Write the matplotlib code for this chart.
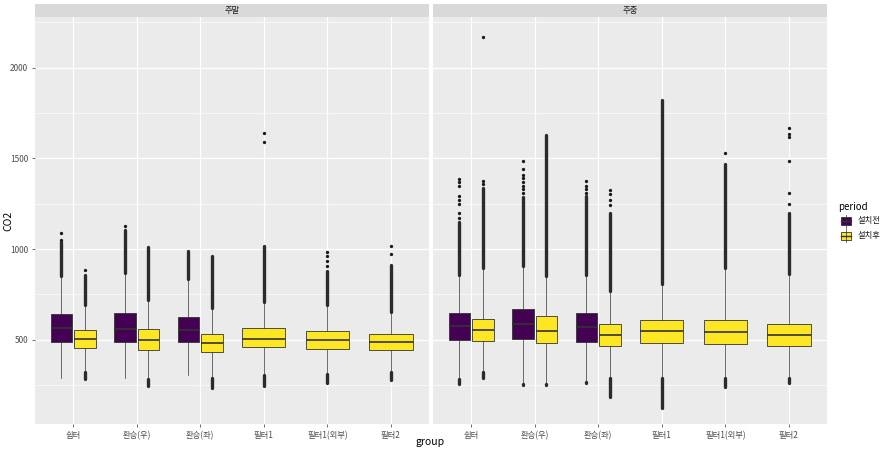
import matplotlib.pyplot as plt
from matplotlib.patches import Rectangle

plt.rcParams['font.family'] = ['Noto Sans CJK KR', 'DejaVu Sans']

# categories
groups = ['쉼터', '환승(우)', '환승(좌)', '필터1', '필터1(외부)', '필터2']
facets = ['주말', '주중']
periods = ['설치전', '설치후']
period_colors = {'설치전': '#440154', '설치후': '#FDE725'}

# one entry per box
box_facet = ['주말'] * 9 + ['주중'] * 9
box_group = ['쉼터', '쉼터', '환승(우)', '환승(우)', '환승(좌)', '환승(좌)',
             '필터1', '필터1(외부)', '필터2'] * 2
box_period = ['설치전', '설치후', '설치전', '설치후', '설치전', '설치후',
              '설치후', '설치후', '설치후'] * 2

q1 = [489, 456, 487, 443, 487, 432, 458, 449, 443,
      496, 494, 504, 483, 489, 465, 482, 474, 465]
med = [564, 504, 559, 496, 555, 483, 506, 498, 487,
       577, 551, 588, 548, 570, 526, 548, 542, 528]
q3 = [640, 551, 645, 559, 627, 533, 562, 548, 531,
      645, 616, 667, 632, 645, 588, 610, 607, 586]
whislo = [289, 320, 289, 282, 305, 287, 305, 311, 320,
          282, 324, 256, 258, 268, 287, 291, 291, 291]
whishi = [849, 689, 867, 720, 834, 675, 709, 689, 653,
          858, 894, 908, 853, 858, 766, 809, 894, 861]
# lowest outlier (None = no low outliers) and top of dense upper outlier run
low_out_min = [None, 283, None, 243, None, 234, 243, 261, 276,
               256, 287, 250, 252, 262, 184, 124, 239, 261]
up_out_max = [1040, 858, 1103, 1011, 991, 959, 1015, 877, 913,
              1147, 1338, 1285, 1628, 1290, 1200, 1823, 1470, 1198]
# isolated outliers above the dense run
sparse_out = [
    [1051, 1088], [886], [1128], [], [], [], [1590, 1639],
    [904, 932, 959, 981], [972, 1018],
    [1171, 1198, 1250, 1272, 1290, 1350, 1369, 1387], [1358, 1373, 2172],
    [1310, 1330, 1350, 1370, 1390, 1410, 1441, 1483], [],
    [1310, 1330, 1350, 1373], [1244, 1268, 1305, 1323], [], [1529],
    [1250, 1309, 1483, 1620, 1635, 1670],
]

W, H = 887, 451
fig = plt.figure(figsize=(W / 100, H / 100), dpi=100)
fig.patch.set_facecolor('white')

edge = '#333333'
panel_left = [35, 433]
panel_w = 394
panel_top, panel_bot = 17.3, 424
strip_top = 4

for fi, facet in enumerate(facets):
    x0 = panel_left[fi]
    ax = fig.add_axes([x0 / W, (H - panel_bot) / H, panel_w / W,
                       (panel_bot - panel_top) / H])
    ax.set_facecolor('#EBEBEB')
    for s in ax.spines.values():
        s.set_visible(False)
    ax.set_xlim(0.4, 6.6)
    ax.set_ylim(35, 2278)
    ax.set_yticks([500, 1000, 1500, 2000])
    ax.set_yticks([250, 750, 1250, 1750, 2250], minor=True)
    ax.set_xticks(range(1, len(groups) + 1))
    ax.set_xticklabels(groups)
    ax.grid(which='major', color='white', linewidth=0.9)
    ax.grid(which='minor', axis='y', color='white', linewidth=0.45)
    ax.set_axisbelow(True)
    ax.tick_params(which='major', length=2.5, width=0.5, color=edge,
                   labelsize=6, labelcolor='#4D4D4D', pad=2.5)
    ax.tick_params(which='minor', length=0)
    if fi == 1:
        ax.tick_params(axis='y', left=False, labelleft=False)

    idx = [i for i in range(len(box_facet)) if box_facet[i] == facet]
    for i in idx:
        g = box_group[i]
        gx = groups.index(g) + 1
        n_in_group = sum(1 for j in idx if box_group[j] == g)
        if n_in_group == 2:
            off = -0.185 if box_period[i] == periods[0] else 0.185
            wd = 0.34
        else:
            off, wd = 0.0, 0.683
        pos = gx + off
        stats = [dict(med=med[i], q1=q1[i], q3=q3[i],
                      whislo=whislo[i], whishi=whishi[i], fliers=[])]
        ax.bxp(stats, positions=[pos], widths=wd, showfliers=False,
               showcaps=False, patch_artist=True,
               boxprops=dict(facecolor=period_colors[box_period[i]],
                             edgecolor=edge, linewidth=0.6),
               medianprops=dict(color=edge, linewidth=1.2),
               whiskerprops=dict(color=edge, linewidth=0.5),
               manage_ticks=False)
        ax.vlines(pos, whishi[i], up_out_max[i], color='#2b2b2b',
                  linewidth=2.4, capstyle='round', zorder=3)
        if low_out_min[i] is not None:
            ax.vlines(pos, low_out_min[i], whislo[i], color='#2b2b2b',
                      linewidth=2.4, capstyle='round', zorder=3)
        if sparse_out[i]:
            ax.plot([pos] * len(sparse_out[i]), sparse_out[i], 'o',
                    color='#1a1a1a', markersize=2.4, markeredgewidth=0,
                    zorder=3)

    sax = fig.add_axes([x0 / W, (H - panel_top) / H, panel_w / W,
                        (panel_top - strip_top) / H])
    sax.set_facecolor('#D9D9D9')
    sax.set_xticks([])
    sax.set_yticks([])
    for s in sax.spines.values():
        s.set_visible(False)
    sax.text(0.5, 0.5, facet, ha='center', va='center', fontsize=6,
             color='#1A1A1A', transform=sax.transAxes)

# overlay in pixel coordinates for axis titles and legend
ov = fig.add_axes([0, 0, 1, 1])
ov.set_xlim(0, W)
ov.set_ylim(H, 0)
ov.axis('off')
ov.patch.set_alpha(0)
ov.text(8, 221, 'CO2', rotation=90, ha='center', va='center', fontsize=7.5)
ov.text(430, 442, 'group', ha='center', va='center', fontsize=7.5)

ov.text(838, 207, 'period', ha='left', va='center', fontsize=7)
for k, p in enumerate(periods):
    cy = 221 + k * 14.5
    ov.plot([846.5, 846.5], [cy - 6.5, cy + 6.5], color=edge, linewidth=0.5)
    ov.add_patch(Rectangle((841.5, cy - 4), 10, 8,
                           facecolor=period_colors[p], edgecolor=edge,
                           linewidth=0.6))
    ov.plot([841.5, 851.5], [cy, cy], color=edge, linewidth=1.0)
    ov.text(858, cy, p, ha='left', va='center', fontsize=6, color='#1A1A1A')

fig.savefig('out.png', dpi=100)
